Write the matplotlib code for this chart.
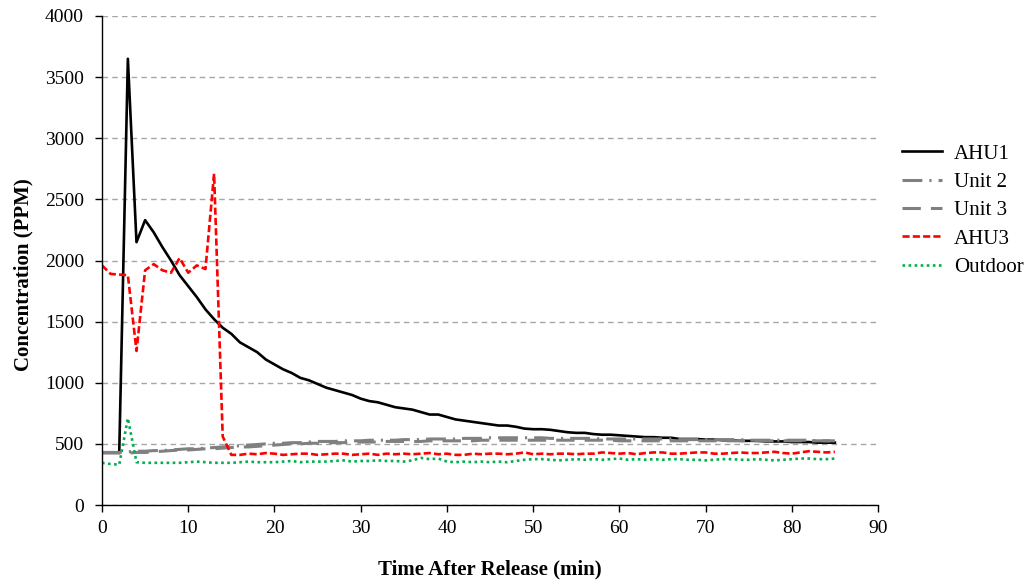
import matplotlib
matplotlib.use("Agg")
import matplotlib.pyplot as plt

time_min = list(range(0, 86))

ahu1 = [430, 430, 430, 3650, 2150, 2330, 2230, 2110, 2000, 1880,
        1790, 1700, 1600, 1520, 1450, 1400, 1330, 1290, 1250, 1190,
        1150, 1110, 1080, 1040, 1020, 990, 960, 940, 920, 900,
        870, 850, 840, 820, 800, 790, 780, 760, 740, 740,
        720, 700, 690, 680, 670, 660, 650, 650, 640, 625,
        620, 620, 615, 605, 595, 590, 590, 580, 575, 575,
        570, 565, 560, 555, 555, 550, 550, 540, 540, 540,
        535, 535, 530, 530, 525, 525, 525, 520, 520, 520,
        515, 515, 515, 510, 510, 510]

unit2 = [430, 430, 430, 435, 440, 440, 445, 445, 450, 455,
         460, 460, 465, 470, 475, 480, 485, 490, 495, 500,
         505, 505, 510, 510, 515, 520, 520, 520, 525, 525,
         525, 530, 530, 530, 530, 535, 535, 535, 540, 540,
         540, 540, 545, 545, 545, 550, 550, 550, 550, 550,
         550, 550, 545, 545, 545, 545, 545, 545, 540, 540,
         540, 540, 540, 540, 540, 540, 540, 535, 535, 535,
         535, 535, 535, 535, 535, 530, 530, 530, 530, 530,
         530, 530, 530, 525, 525, 525]

unit3 = [425, 425, 425, 425, 430, 430, 435, 440, 445, 450,
         450, 455, 460, 460, 465, 470, 475, 475, 480, 485,
         490, 495, 500, 500, 505, 505, 510, 510, 510, 515,
         515, 515, 515, 520, 520, 520, 520, 520, 525, 525,
         525, 525, 525, 525, 530, 530, 530, 530, 530, 530,
         530, 530, 530, 530, 530, 530, 530, 530, 530, 530,
         525, 525, 525, 525, 525, 525, 525, 525, 525, 525,
         525, 525, 525, 525, 525, 525, 525, 525, 525, 525,
         525, 525, 525, 525, 525, 525]

ahu3 = [1960, 1890, 1885, 1880, 1260, 1920, 1970, 1920, 1900, 2020,
        1900, 1960, 1930, 2710, 560, 410, 410, 420, 415, 425,
        420, 410, 415, 420, 420, 410, 415, 420, 420, 410,
        415, 420, 410, 420, 415, 420, 415, 420, 425, 415,
        420, 410, 410, 420, 415, 420, 420, 415, 420, 430,
        415, 420, 415, 420, 420, 415, 420, 420, 430, 425,
        420, 425, 415, 425, 430, 430, 420, 420, 425, 430,
        430, 420, 420, 425, 430, 425, 425, 430, 435, 425,
        420, 430, 440, 435, 430, 435]

outdoor = [345, 335, 330, 710, 350, 345, 345, 345, 345, 345,
           350, 355, 350, 345, 345, 345, 350, 355, 350, 350,
           350, 355, 360, 350, 355, 355, 355, 360, 365, 355,
           360, 360, 365, 360, 360, 355, 365, 385, 375, 380,
           355, 350, 355, 350, 355, 350, 355, 350, 360, 370,
           375, 375, 370, 365, 370, 375, 370, 375, 370, 375,
           380, 370, 375, 370, 375, 370, 375, 375, 370, 370,
           365, 370, 375, 375, 370, 370, 375, 370, 365, 370,
           375, 380, 380, 375, 375, 380]

x_ticks = list(range(0, 91, 10))
y_ticks = list(range(0, 4001, 500))

plt.rcParams['font.family'] = ['Liberation Serif', 'DejaVu Serif']

fig = plt.figure(figsize=(10.33, 5.83), dpi=100)
ax = fig.add_axes([102/1033, 78/583, 776/1033, 489/583])

ax.plot(time_min, ahu1, color='black', lw=1.9, ls='-', label='AHU1')
ax.plot(time_min, unit2, color='#808080', lw=2.2, ls=(0, (6.5, 2.3, 0.7, 2.3)), label='Unit 2')
ax.plot(time_min, unit3, color='#808080', lw=2.2, ls=(0, (6.0, 3.3)), label='Unit 3')
ax.plot(time_min, ahu3, color='#FF0000', lw=1.9, ls=(0, (2.7, 1.2)), label='AHU3')
ax.plot(time_min, outdoor, color='#00B050', lw=1.9, ls=(0, (1, 1.3)), label='Outdoor')

ax.set_xlim(0, 90)
ax.set_ylim(0, 4000)
ax.set_xticks(x_ticks)
ax.set_yticks(y_ticks)
ax.tick_params(axis='both', direction='out', length=5, width=1, labelsize=14, colors='black')
ax.tick_params(axis='x', pad=6)
ax.tick_params(axis='y', pad=8)
ax.yaxis.grid(True, color='#A6A6A6', ls=(0, (4, 3)), lw=1)
ax.set_axisbelow(True)
for s in ['top', 'right']:
    ax.spines[s].set_visible(False)
for s in ['left', 'bottom']:
    ax.spines[s].set_color('black')
    ax.spines[s].set_linewidth(1)

ax.set_xlabel('Time After Release (min)', fontsize=15, fontweight='bold', labelpad=16)
ax.set_ylabel('Concentration (PPM)', fontsize=15, fontweight='bold')
ax.yaxis.set_label_coords(-0.088, 0.472)

leg = ax.legend(loc='upper left', bbox_to_anchor=(1.02, 0.755), frameon=False,
                fontsize=15, handlelength=1.92, handletextpad=0.58, labelspacing=0.42,
                borderaxespad=0)

fig.savefig('out.png', dpi=100)
